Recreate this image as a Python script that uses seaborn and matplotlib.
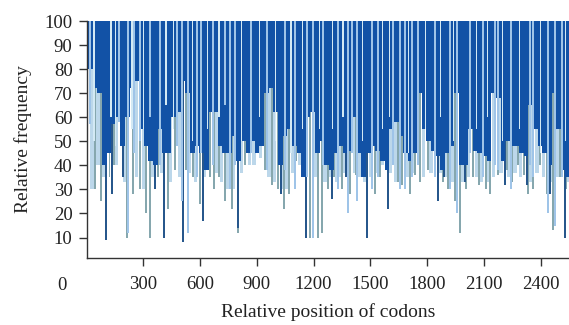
import numpy as np
import matplotlib
matplotlib.use("Agg")
import matplotlib.pyplot as plt
import seaborn as sns

# ---- data (codon position, relative frequency at which the bar ends) ----
dark_values = [80, 72, 70, 40, 45, 57, 60, 48, 60, 72, 75, 55, 48, 42, 40, 55, 45,
               45, 60, 62, 75, 70, 45, 48, 45, 38, 62, 62, 48, 45, 45, 52, 42, 50,
               45, 50, 45, 48, 70, 72, 62, 40, 52, 55, 48, 45, 35, 60, 62, 45, 50,
               40, 38, 45, 48, 45, 46, 60, 45, 35, 45, 48, 46, 42, 38, 55, 58, 52, 45,
               42, 45, 70, 55, 50, 46, 44, 38, 45, 48, 70, 40, 40, 55, 46, 45, 44,
               42, 70, 68, 42, 50, 48, 48, 45, 44, 65, 55, 48, 45, 40, 70, 55, 38, 35]

light_pos = [18, 172, 219, 251, 283, 336, 389, 478, 505, 536, 584, 605, 668, 732, 758,
             785, 869, 954, 1049, 1102, 1165, 1197, 1250, 1329, 1382, 1403, 1430, 1508,
             1540, 1620, 1657, 1683, 1720, 1752, 1842, 1921, 1958, 2027, 2095, 2159,
             2174, 2243, 2343, 2359, 2438, 2476, 2513]
light_val = [57, 58, 12, 45, 50, 60, 40, 48, 25, 12, 35, 45, 40, 65, 30,
             40, 45, 38, 38, 30, 35, 10, 40, 30, 20, 45, 25, 30,
             35, 40, 30, 30, 35, 40, 35, 30, 20, 45, 35, 40,
             38, 30, 40, 35, 20, 15, 35]

streak_pos = [40, 130, 155, 240, 300, 420, 460, 560, 640, 700, 820, 915, 1000, 1080,
              1140, 1230, 1300, 1355, 1460, 1565, 1600, 1700, 1790, 1870, 1940, 2060,
              2120, 2200, 2290, 2400, 2530]
streak_val = [50, 60, 48, 55, 55, 65, 55, 50, 55, 60, 50, 60, 50, 45,
              55, 55, 55, 60, 50, 55, 60, 45, 55, 60, 50, 55,
              60, 50, 55, 45, 50]

pale_pos = [30, 60, 90, 160, 200, 265, 300, 350, 395, 445, 490, 545, 575, 625, 690,
            715, 745, 775, 820, 860, 885, 920, 965, 995, 1030, 1060, 1090, 1125, 1145,
            1210, 1260, 1290, 1320, 1340, 1365, 1415, 1445, 1470, 1500, 1535, 1565,
            1605, 1635, 1695, 1725, 1780, 1820, 1870, 1900, 1935, 1990, 2020, 2060,
            2085, 2120, 2150, 2190, 2230, 2265, 2295, 2350, 2380, 2415, 2455, 2490, 2545]
pale_val = [30, 40, 35, 40, 33, 35, 30, 35, 37, 33, 35, 37, 33, 35, 37,
            33, 30, 30, 37, 40, 40, 43, 35, 33, 30, 30, 37, 40, 40,
            35, 33, 35, 33, 35, 37, 37, 35, 33, 35, 37, 40,
            37, 33, 35, 37, 35, 37, 37, 35, 33, 33, 35, 35,
            33, 33, 35, 37, 35, 37, 35, 33, 37, 35, 33, 35, 33]

gray_pos = [45, 77, 121, 145, 214, 246, 283, 314, 336, 378, 431, 468, 526, 563, 600,
            653, 674, 700, 732, 769, 801, 838, 901, 943, 980, 1012, 1044, 1070, 1107,
            1181, 1223, 1244, 1276, 1308, 1350, 1392, 1424, 1456, 1524, 1551, 1583,
            1646, 1667, 1709, 1736, 1762, 1805, 1842, 1884, 1910, 1947, 1974, 2006,
            2043, 2074, 2111, 2132, 2174, 2222, 2248, 2280, 2312, 2333, 2359, 2396,
            2433, 2465, 2502, 2534]
gray_val = [30, 25, 35, 40, 10, 28, 30, 20, 10, 35, 22, 38, 38, 35, 24,
            35, 30, 35, 25, 22, 12, 40, 45, 38, 32, 30, 22, 28, 42,
            10, 10, 12, 30, 35, 30, 28, 36, 40, 28, 35, 45,
            33, 32, 28, 36, 33, 38, 36, 33, 30, 25, 12, 30,
            35, 32, 30, 28, 36, 38, 33, 40, 36, 28, 30, 40,
            28, 13, 35, 30]

navy_pos = [103, 135, 193, 362, 410, 510, 616, 801, 1028, 1160, 1297, 1371, 1482,
            1593, 1683, 1857, 1889, 2000, 2211, 2328, 2449, 2529]
navy_val = [9, 28, 35, 30, 10, 8, 17, 14, 28, 10, 26, 35, 10,
            22, 30, 25, 35, 33, 32, 32, 28, 10]

x_ticks = [300, 600, 900, 1200, 1500, 1800, 2100, 2400]
y_ticks = [10, 20, 30, 40, 50, 60, 70, 80, 90, 100]
TOP = 100

# ---- style ----
sns.set_theme(style="ticks")
plt.rcParams['font.family'] = ['Liberation Serif', 'DejaVu Serif']

pal = sns.color_palette(["#bcd7ea", "#86a7ae", "#27578c", "#1252a6", "#9fc4e8", "#d3e9f4"])

fig = plt.figure(figsize=(5.69, 3.25), dpi=100)
ax = fig.add_axes([86.5 / 569, 1 - 258 / 325, 1 - 86.5 / 569, (258 - 21) / 325])

dark_pos = 20 + 24.5 * np.arange(len(dark_values))

def hang(pos, vals, width, color):
    vals = np.asarray(vals, dtype=float)
    ax.bar(pos, TOP - vals, bottom=vals, width=width, color=color,
           linewidth=0, align="center")

hang(pale_pos, pale_val, 18, pal[0])
hang(gray_pos, gray_val, 9, pal[1])
hang(navy_pos, navy_val, 9, pal[2])
hang(dark_pos, dark_values, 24.6, pal[3])
hang(streak_pos, streak_val, 7, pal[5])
hang(light_pos, light_val, 8, pal[4])

ax.set_xlim(0, 2550)
ax.set_ylim(1.5, 100)
ax.set_xticks(x_ticks)
ax.set_yticks(y_ticks)
ax.tick_params(axis="both", direction="out", length=6, width=1, color="#333333",
               labelsize=13.5, labelcolor="#222222")
ax.tick_params(axis="x", pad=7)
ax.tick_params(axis="y", pad=4)
for s in ["left", "bottom"]:
    ax.spines[s].set_color("#333333")
    ax.spines[s].set_linewidth(1)
sns.despine(ax=ax)

ax.set_xlabel("Relative position of codons", fontsize=14, color="#222222", labelpad=7)
ax.set_ylabel("Relative frequency", fontsize=14, color="#222222", labelpad=9)
ax.text(-0.05, -0.115, "0", transform=ax.transAxes, fontsize=13.5, color="#222222",
        ha="center", va="center")

fig.savefig("out.png", dpi=100)
